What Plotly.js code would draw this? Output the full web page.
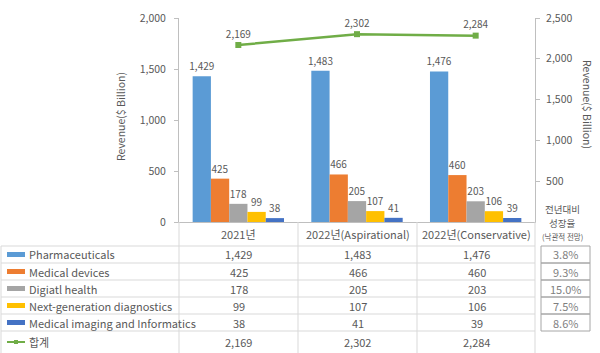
<!DOCTYPE html>
<html>
<head>
<meta charset="utf-8">
<script src="https://cdn.plot.ly/plotly-3.0.1.min.js"></script>
<style>html,body{margin:0;padding:0;background:#fff;}#chart{width:600px;height:353px;}</style>
</head>
<body>
<div id="chart"></div>
<script>
const categories = ['2021년', '2022년(Aspirational)', '2022년(Conservative)'];
const seriesNames = ['Pharmaceuticals', 'Medical devices', 'Digiatl health', 'Next-generation diagnostics', 'Medical imaging and Informatics'];
const pharmaceuticals = [1429, 1483, 1476];
const medicalDevices = [425, 466, 460];
const digitalHealth = [178, 205, 203];
const nextGenDiagnostics = [99, 107, 106];
const medicalImaging = [38, 41, 39];
const totalName = '합계';
const total = [2169, 2302, 2284];
const growthRates = ['3.8%', '9.3%', '15.0%', '7.5%', '8.6%'];
const growthHeader = ['전년대비', '성장율', '(낙관적 전망)'];
const axisTitle = 'Revenue($ Billion)';
const leftTicks = [0, 500, 1000, 1500, 2000];
const rightTicks = [500, 1000, 1500, 2000, 2500];

const colors = ['#5B9BD5', '#ED7D31', '#A5A5A5', '#FFC000', '#4472C4'];
const lineColor = '#70AD47';
const textColor = '#595959';
const FONT = '"Noto Sans CJK KR", "Open Sans", sans-serif';

const W = 600, H = 353;
const L = 179, R = 535, T = 18, B = 222;
const px = x => (x - L) / (R - L);
const py = y => (B - y) / (B - T);

const seriesValues = [pharmaceuticals, medicalDevices, digitalHealth, nextGenDiagnostics, medicalImaging];
const fmt = v => v.toLocaleString('en-US');

const traces = seriesValues.map((vals, i) => ({
  type: 'bar', name: seriesNames[i], x: categories, y: vals,
  marker: {color: colors[i]},
  text: vals.map(fmt), textposition: 'outside', constraintext: 'none', cliponaxis: false,
  textfont: {size: 10, color: textColor, family: FONT},
  hoverinfo: 'none', showlegend: false
}));
traces.push({
  type: 'scatter', mode: 'lines+markers+text', name: totalName, x: categories, y: total, yaxis: 'y2',
  line: {color: lineColor, width: 2.5}, marker: {color: lineColor, symbol: 'square', size: 6},
  text: total.map(fmt), textposition: 'top center', cliponaxis: false,
  textfont: {size: 10, color: textColor, family: FONT}, showlegend: false, hoverinfo: 'none'
});

const shapes = [];
const annotations = [];
const lineC = '#D9D9D9';
function hline(y, x0, x1, c) { shapes.push({type: 'line', xref: 'paper', yref: 'paper', x0: px(x0), x1: px(x1), y0: py(y), y1: py(y), line: {color: c || lineC, width: 1}}); }
function vline(x, y0, y1, c) { shapes.push({type: 'line', xref: 'paper', yref: 'paper', x0: px(x), x1: px(x), y0: py(y0), y1: py(y1), line: {color: c || lineC, width: 1}}); }
function text(t, x, y, opts) {
  annotations.push(Object.assign({text: t, xref: 'paper', yref: 'paper', x: px(x), y: py(y), showarrow: false,
    xanchor: 'center', yanchor: 'middle', borderpad: 0, font: {size: 11, color: textColor, family: FONT}}, opts || {}));
}

// table grid
const rowLines = [246, 263, 280, 297, 314, 331];
rowLines.forEach(y => hline(y, 1, 535));
vline(1, 246, 353);
[179, 298, 417, 535].forEach(x => vline(x, 222, 353));

// header
const colCenters = [238.5, 357.5, 476.5];
categories.forEach((c, j) => text(c, colCenters[j], 234));

// rows
const rowCenters = [254.5, 271.5, 288.5, 305.5, 322.5];
seriesNames.forEach((n, i) => {
  shapes.push({type: 'rect', xref: 'paper', yref: 'paper', x0: px(7), x1: px(25), y0: py(rowCenters[i] - 2.5), y1: py(rowCenters[i] + 2.5), fillcolor: colors[i], line: {width: 0}});
  text(n, 28, rowCenters[i], {xanchor: 'left'});
  seriesValues[i].forEach((v, j) => text(fmt(v), colCenters[j], rowCenters[i]));
});
// total row
shapes.push({type: 'line', xref: 'paper', yref: 'paper', x0: px(7), x1: px(25), y0: py(342), y1: py(342), line: {color: lineColor, width: 2}});
shapes.push({type: 'rect', xref: 'paper', yref: 'paper', x0: px(14), x1: px(18), y0: py(340), y1: py(344), fillcolor: lineColor, line: {width: 0}});
text(totalName, 28, 342, {xanchor: 'left'});
total.forEach((v, j) => text(fmt(v), colCenters[j], 342));

// growth column header
text(growthHeader[0], 562, 209, {font: {size: 9.5, color: textColor, family: FONT}});
text(growthHeader[1], 562, 222.5, {font: {size: 9.5, color: textColor, family: FONT}});
text(growthHeader[2], 562, 236, {font: {size: 7.5, color: textColor, family: FONT}});
growthRates.forEach((g, i) => {
  shapes.push({type: 'rect', xref: 'paper', yref: 'paper', x0: px(541), x1: px(590), y0: py(rowLines[i]), y1: py(rowLines[i + 1]), line: {color: '#A6A6A6', width: 1}});
  text(g, 565.5, rowCenters[i], {font: {size: 11, color: '#7F7F7F', family: FONT}});
});

// axis titles
text(axisTitle, 120, 117, {textangle: -90, font: {size: 10.5, color: textColor, family: FONT}});
text(axisTitle, 587, 104, {textangle: 90, font: {size: 10.5, color: textColor, family: FONT}});

const layout = {
  width: W, height: H, margin: {l: L, r: W - R, t: T, b: H - B},
  paper_bgcolor: '#fff', plot_bgcolor: '#fff',
  font: {family: FONT, color: textColor, size: 10},
  barmode: 'group', bargap: 0.23, bargroupgap: 0,
  showlegend: false,
  xaxis: {type: 'category', showticklabels: false, showline: true, linecolor: '#BFBFBF', ticks: '', showgrid: false, zeroline: false, fixedrange: true},
  yaxis: {range: [0, 2000], tickvals: leftTicks, tickformat: ',', showline: true, linecolor: '#BFBFBF', ticks: 'outside', ticklen: 4, tickcolor: '#BFBFBF',
    showgrid: false, zeroline: false, tickfont: {size: 10.5, color: textColor, family: FONT}, ticklabelstandoff: 6},
  yaxis2: {range: [0, 2500], overlaying: 'y', side: 'right', tickvals: rightTicks, tickformat: ',', showline: true, linecolor: '#BFBFBF', ticks: 'outside', ticklen: 4, tickcolor: '#BFBFBF',
    showgrid: false, zeroline: false, tickfont: {size: 10.5, color: textColor, family: FONT}, ticklabelstandoff: 4},
  shapes: shapes, annotations: annotations
};

Plotly.newPlot('chart', traces, layout, {displayModeBar: false, staticPlot: true});
</script>
</body>
</html>
